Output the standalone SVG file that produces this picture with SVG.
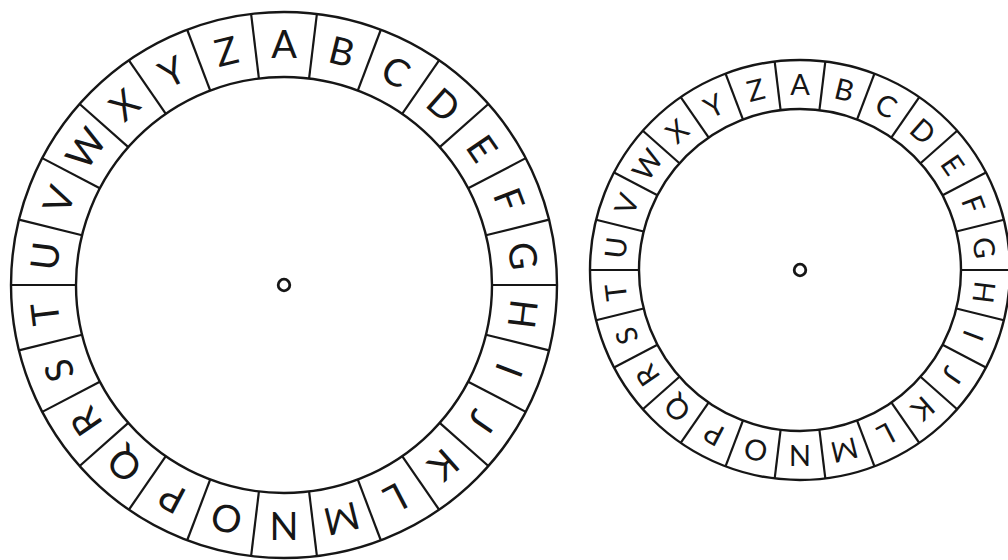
<svg xmlns="http://www.w3.org/2000/svg" width="1008" height="560" viewBox="0 0 1008 560">
<style>
.c{fill:none;stroke:#161616;stroke-width:2.4}
.dot{fill:none;stroke:#161616;stroke-width:2.8}
.d line{stroke:#161616;stroke-width:2.2}
.L text{font-family:Lato,"Liberation Sans",sans-serif;font-size:38px;fill:#161616;text-anchor:middle}
.S text{font-family:Lato,"Liberation Sans",sans-serif;font-size:29px;fill:#161616;text-anchor:middle}
</style>
<rect width="1008" height="560" fill="#fff"/>
<g id="wheel-large" transform="translate(284,285)">
<circle class="c" r="273"/>
<circle class="c" r="208"/>
<circle class="dot" r="5.8"/>
<g class="d">
<line y1="-208" y2="-273" transform="rotate(6.923)"/>
<line y1="-208" y2="-273" transform="rotate(20.769)"/>
<line y1="-208" y2="-273" transform="rotate(34.615)"/>
<line y1="-208" y2="-273" transform="rotate(48.462)"/>
<line y1="-208" y2="-273" transform="rotate(62.308)"/>
<line y1="-208" y2="-273" transform="rotate(76.154)"/>
<line y1="-208" y2="-273" transform="rotate(90)"/>
<line y1="-208" y2="-273" transform="rotate(103.846)"/>
<line y1="-208" y2="-273" transform="rotate(117.692)"/>
<line y1="-208" y2="-273" transform="rotate(131.538)"/>
<line y1="-208" y2="-273" transform="rotate(145.385)"/>
<line y1="-208" y2="-273" transform="rotate(159.231)"/>
<line y1="-208" y2="-273" transform="rotate(173.077)"/>
<line y1="-208" y2="-273" transform="rotate(186.923)"/>
<line y1="-208" y2="-273" transform="rotate(200.769)"/>
<line y1="-208" y2="-273" transform="rotate(214.615)"/>
<line y1="-208" y2="-273" transform="rotate(228.462)"/>
<line y1="-208" y2="-273" transform="rotate(242.308)"/>
<line y1="-208" y2="-273" transform="rotate(256.154)"/>
<line y1="-208" y2="-273" transform="rotate(270)"/>
<line y1="-208" y2="-273" transform="rotate(283.846)"/>
<line y1="-208" y2="-273" transform="rotate(297.692)"/>
<line y1="-208" y2="-273" transform="rotate(311.538)"/>
<line y1="-208" y2="-273" transform="rotate(325.385)"/>
<line y1="-208" y2="-273" transform="rotate(339.231)"/>
<line y1="-208" y2="-273" transform="rotate(353.077)"/>
</g>
<g class="L">
<text y="-227" transform="rotate(0)">A</text>
<text y="-227" transform="rotate(13.846)">B</text>
<text y="-227" transform="rotate(27.692)">C</text>
<text y="-227" transform="rotate(41.538)">D</text>
<text y="-227" transform="rotate(55.385)">E</text>
<text y="-227" transform="rotate(69.231)">F</text>
<text y="-227" transform="rotate(83.077)">G</text>
<text y="-227" transform="rotate(96.923)">H</text>
<text y="-227" transform="rotate(110.769)">I</text>
<text y="-227" transform="rotate(124.615)">J</text>
<text y="-227" transform="rotate(138.462)">K</text>
<text y="-227" transform="rotate(152.308)">L</text>
<text y="-227" transform="rotate(166.154)">M</text>
<text y="-227" transform="rotate(180)">N</text>
<text y="-227" transform="rotate(193.846)">O</text>
<text y="-227" transform="rotate(207.692)">P</text>
<text y="-227" transform="rotate(221.538)">Q</text>
<text y="-227" transform="rotate(235.385)">R</text>
<text y="-227" transform="rotate(249.231)">S</text>
<text y="-227" transform="rotate(263.077)">T</text>
<text y="-227" transform="rotate(276.923)">U</text>
<text y="-227" transform="rotate(290.769)">V</text>
<text y="-227" transform="rotate(304.615)">W</text>
<text y="-227" transform="rotate(318.462)">X</text>
<text y="-227" transform="rotate(332.308)">Y</text>
<text y="-227" transform="rotate(346.154)">Z</text>
</g>
</g>
<g id="wheel-small" transform="translate(800,270)">
<circle class="c" r="210"/>
<circle class="c" r="161"/>
<circle class="dot" r="5.8"/>
<g class="d">
<line y1="-161" y2="-210" transform="rotate(6.923)"/>
<line y1="-161" y2="-210" transform="rotate(20.769)"/>
<line y1="-161" y2="-210" transform="rotate(34.615)"/>
<line y1="-161" y2="-210" transform="rotate(48.462)"/>
<line y1="-161" y2="-210" transform="rotate(62.308)"/>
<line y1="-161" y2="-210" transform="rotate(76.154)"/>
<line y1="-161" y2="-210" transform="rotate(90)"/>
<line y1="-161" y2="-210" transform="rotate(103.846)"/>
<line y1="-161" y2="-210" transform="rotate(117.692)"/>
<line y1="-161" y2="-210" transform="rotate(131.538)"/>
<line y1="-161" y2="-210" transform="rotate(145.385)"/>
<line y1="-161" y2="-210" transform="rotate(159.231)"/>
<line y1="-161" y2="-210" transform="rotate(173.077)"/>
<line y1="-161" y2="-210" transform="rotate(186.923)"/>
<line y1="-161" y2="-210" transform="rotate(200.769)"/>
<line y1="-161" y2="-210" transform="rotate(214.615)"/>
<line y1="-161" y2="-210" transform="rotate(228.462)"/>
<line y1="-161" y2="-210" transform="rotate(242.308)"/>
<line y1="-161" y2="-210" transform="rotate(256.154)"/>
<line y1="-161" y2="-210" transform="rotate(270)"/>
<line y1="-161" y2="-210" transform="rotate(283.846)"/>
<line y1="-161" y2="-210" transform="rotate(297.692)"/>
<line y1="-161" y2="-210" transform="rotate(311.538)"/>
<line y1="-161" y2="-210" transform="rotate(325.385)"/>
<line y1="-161" y2="-210" transform="rotate(339.231)"/>
<line y1="-161" y2="-210" transform="rotate(353.077)"/>
</g>
<g class="S">
<text y="-175" transform="rotate(0)">A</text>
<text y="-175" transform="rotate(13.846)">B</text>
<text y="-175" transform="rotate(27.692)">C</text>
<text y="-175" transform="rotate(41.538)">D</text>
<text y="-175" transform="rotate(55.385)">E</text>
<text y="-175" transform="rotate(69.231)">F</text>
<text y="-175" transform="rotate(83.077)">G</text>
<text y="-175" transform="rotate(96.923)">H</text>
<text y="-175" transform="rotate(110.769)">I</text>
<text y="-175" transform="rotate(124.615)">J</text>
<text y="-175" transform="rotate(138.462)">K</text>
<text y="-175" transform="rotate(152.308)">L</text>
<text y="-175" transform="rotate(166.154)">M</text>
<text y="-175" transform="rotate(180)">N</text>
<text y="-175" transform="rotate(193.846)">O</text>
<text y="-175" transform="rotate(207.692)">P</text>
<text y="-175" transform="rotate(221.538)">Q</text>
<text y="-175" transform="rotate(235.385)">R</text>
<text y="-175" transform="rotate(249.231)">S</text>
<text y="-175" transform="rotate(263.077)">T</text>
<text y="-175" transform="rotate(276.923)">U</text>
<text y="-175" transform="rotate(290.769)">V</text>
<text y="-175" transform="rotate(304.615)">W</text>
<text y="-175" transform="rotate(318.462)">X</text>
<text y="-175" transform="rotate(332.308)">Y</text>
<text y="-175" transform="rotate(346.154)">Z</text>
</g>
</g>
</svg>
